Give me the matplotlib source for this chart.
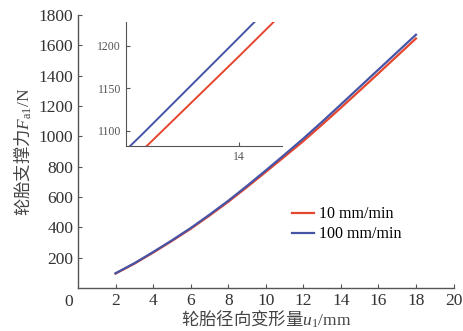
import matplotlib
matplotlib.use('Agg')
from matplotlib import pyplot as plt

# tyre radial deformation (mm) vs supporting force (N)
u = [2, 3, 4, 5, 6, 7, 8, 9, 10, 11, 12, 13, 14, 15, 16, 17, 18]
f_10 = [95, 160, 233, 310, 390, 477, 568, 665, 765, 866, 968, 1077, 1188, 1301, 1415, 1530, 1645]
f_100 = [97, 163, 237, 314, 395, 483, 575, 673, 775, 879, 985, 1096, 1210, 1325, 1440, 1555, 1670]
labels = ['10 mm/min', '100 mm/min']

x_ticks = [2, 4, 6, 8, 10, 12, 14, 16, 18, 20]
y_ticks = [200, 400, 600, 800, 1000, 1200, 1400, 1600, 1800]
inset_x_ticks = [14]
inset_y_ticks = [1100, 1150, 1200]

red = '#e5462e'
blue = '#4654a6'
grey = '#555555'
txt = '#333333'

plt.rcParams['font.family'] = ['Liberation Serif', 'Noto Sans CJK SC']
plt.rcParams['mathtext.fontset'] = 'custom'
plt.rcParams['mathtext.rm'] = 'Liberation Serif'
plt.rcParams['mathtext.it'] = 'Liberation Serif:italic'
plt.rcParams['mathtext.sf'] = 'Liberation Serif'

fig = plt.figure(figsize=(4.63, 3.31), dpi=100)
ax = fig.add_axes([0.1685, 0.130, 0.811, 0.8247])

ax.plot(u, f_10, color=red, lw=1.6, label=labels[0])
ax.plot(u, f_100, color=blue, lw=1.6, label=labels[1])

ax.set_xlim(0, 20)
ax.set_ylim(0, 1800)
ax.set_xticks(x_ticks)
ax.set_yticks(y_ticks)
ax.tick_params(direction='in', length=3, color=grey, labelsize=12.5, colors=txt)
for side in ['top', 'right']:
    ax.spines[side].set_visible(False)
for side in ['left', 'bottom']:
    ax.spines[side].set_color(grey)
    ax.spines[side].set_linewidth(1.0)
ax.text(-0.25, -38, '0', ha='right', va='top', fontsize=12.5, color=txt)

# the non-math part of a mathtext string is drawn in the text's own (first) family
ax.set_xlabel('轮胎径向变形量$u_{\\mathsf{1}}\\mathsf{/mm}$', fontsize=12.5, color='#444444',
              labelpad=0, fontfamily='Noto Sans CJK SC', fontweight='light')
ax.set_ylabel('轮胎支撑力$F_{\\mathsf{a1}}\\mathsf{/N}$', fontsize=12.5, color='#444444',
              labelpad=3, fontfamily='Noto Sans CJK SC', fontweight='light')

ax.legend(loc='lower right', bbox_to_anchor=(0.90, 0.115), frameon=False, fontsize=11.5,
          handlelength=1.4, handletextpad=0.3, labelspacing=0.25)

# zoomed inset
ins = fig.add_axes([0.272, 0.559, 0.337, 0.3745])
ins.plot(u, f_10, color=red, lw=1.4)
ins.plot(u, f_100, color=blue, lw=1.4)
ins.set_xlim(12.83, 14.44)
ins.set_ylim(1082, 1228)
ins.set_xticks(inset_x_ticks)
ins.set_yticks(inset_y_ticks)
ins.tick_params(direction='in', length=3, color=grey, labelsize=8.5, colors='#555555')
for side in ['top', 'right']:
    ins.spines[side].set_visible(False)
for side in ['left', 'bottom']:
    ins.spines[side].set_color(grey)
ins.patch.set_alpha(0)

plt.savefig('out.png', dpi=100)
